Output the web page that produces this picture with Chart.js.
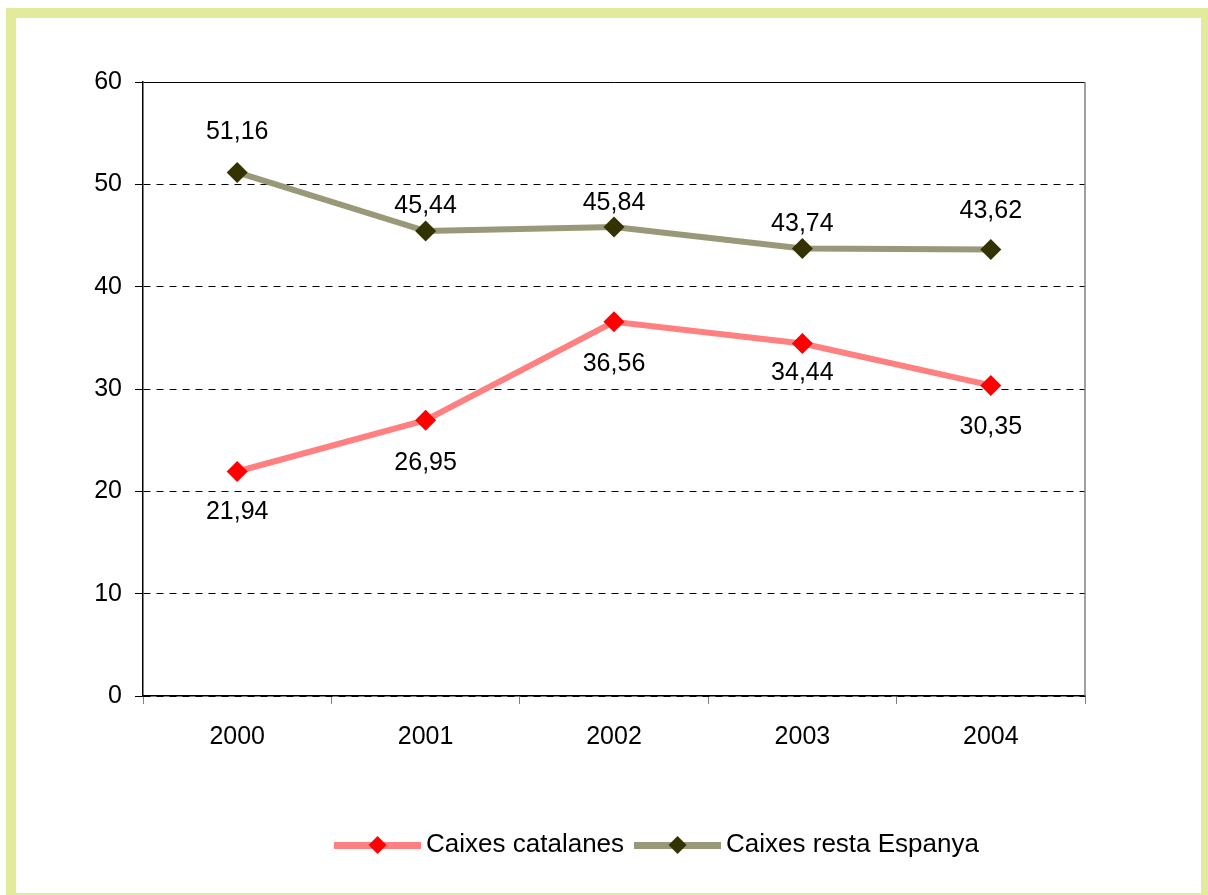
<!DOCTYPE html>
<html>
<head>
<meta charset="utf-8">
<title>Caixes</title>
<script src="https://cdn.jsdelivr.net/npm/chart.js@4.4.0/dist/chart.umd.min.js"></script>
<style>
    html, body { margin: 0; padding: 0; background: #fff; overflow: hidden; width: 1208px; height: 895px; }
    #frame { position: absolute; left: 6px; top: 8px; width: 1205px; height: 895px; box-sizing: border-box; border: 10px solid #e1eb9b; }
    #chart { position: absolute; left: 0; top: 0; }
</style>
</head>
<body>
<div id="frame"></div>
<canvas id="chart" width="1240" height="895"></canvas>
<script>
// dades
const years = ['2000', '2001', '2002', '2003', '2004'];
const catalanes = [21.94, 26.95, 36.56, 34.44, 30.35];
const restaEspanya = [51.16, 45.44, 45.84, 43.74, 43.62];
const seriesNames = ['Caixes catalanes', 'Caixes resta Espanya'];
const yMin = 0, yMax = 60, yStep = 10;

const FONT = '"Liberation Sans", Arial, Helvetica, sans-serif';
Chart.defaults.font.family = FONT;
Chart.defaults.color = '#000';

const fmt = v => v.toFixed(2).replace('.', ',');

// icona de la llegenda: línia + rombe
const makeIcon = (lineColor, markColor) => {
    const c = document.createElement('canvas');
    c.width = 87; c.height = 22;
    const g = c.getContext('2d');
    g.fillStyle = lineColor;
    g.fillRect(0, 8, 87, 7);
    g.fillStyle = markColor;
    g.beginPath();
    g.moveTo(43.5, 2); g.lineTo(52.5, 11); g.lineTo(43.5, 20); g.lineTo(34.5, 11);
    g.closePath(); g.fill();
    return c;
};
const icons = [makeIcon('#ff8080', '#ff0000'), makeIcon('#999979', '#333300')];

// etiquetes de valor
const valueLabels = {
    id: 'valueLabels',
    afterDatasetsDraw(chart, args, opts) {
        const ctx = chart.ctx;
        ctx.save();
        ctx.font = opts.size + 'px ' + FONT;
        ctx.fillStyle = '#000';
        ctx.textAlign = 'center';
        ctx.textBaseline = 'middle';
        chart.data.datasets.forEach((ds, i) => {
            const meta = chart.getDatasetMeta(i);
            meta.data.forEach((pt, j) => {
                ctx.fillText(fmt(ds.data[j]), pt.x, pt.y + opts.offsets[i][j]);
            });
        });
        ctx.restore();
    }
};

// vora dreta grisa de l'àrea de traçat
const plotFrame = {
    id: 'plotFrame',
    beforeDatasetsDraw(chart) {
        const {ctx, chartArea: a} = chart;
        ctx.save();
        ctx.strokeStyle = '#808080';
        ctx.lineWidth = 1.5;
        ctx.beginPath();
        ctx.moveTo(a.right, a.top);
        ctx.lineTo(a.right, a.bottom);
        ctx.stroke();
        ctx.restore();
    }
};

new Chart(document.getElementById('chart'), {
    type: 'line',
    data: {
        labels: years,
        datasets: [
            {
                label: seriesNames[0], data: catalanes,
                borderColor: '#ff8080', borderWidth: 6, tension: 0, fill: false,
                pointStyle: 'rectRot', pointRadius: 10.5, pointBorderWidth: 0,
                pointBackgroundColor: '#ff0000', pointBorderColor: '#ff0000'
            },
            {
                label: seriesNames[1], data: restaEspanya,
                borderColor: '#999979', borderWidth: 6, tension: 0, fill: false,
                pointStyle: 'rectRot', pointRadius: 10.5, pointBorderWidth: 0,
                pointBackgroundColor: '#333300', pointBorderColor: '#333300'
            }
        ]
    },
    options: {
        responsive: false,
        devicePixelRatio: 1,
        animation: false,
        events: [],
        layout: { padding: { left: 81, right: 0, top: 82, bottom: 27 } },
        scales: {
            x: {
                offset: true,
                grid: { offset: true, drawOnChartArea: false, tickLength: 8, color: '#808080', lineWidth: 1 },
                border: { display: true, color: '#000', width: 1.5 },
                ticks: { font: { size: 25 }, padding: 18, maxRotation: 0 },
                afterFit: s => { s.height = 118; }
            },
            y: {
                min: yMin, max: yMax,
                ticks: { stepSize: yStep, font: { size: 25 }, padding: 13 },
                grid: { tickLength: 8, lineWidth: 1, color: '#000' },
                border: {
                    display: true, color: '#000', width: 1.5,
                    dash: c => (c.tick && c.tick.value === yMax) ? [] : [7, 6]
                },
                afterFit: s => { s.width = 62; }
            },
            yR: {
                position: 'right',
                grid: { display: false },
                ticks: { display: false },
                border: { display: false },
                afterFit: s => { s.width = 155; }
            }
        },
        plugins: {
            tooltip: { enabled: false },
            legend: {
                position: 'bottom',
                labels: {
                    usePointStyle: true, pointStyleWidth: 71, padding: 18,
                    font: { size: 26 },
                    generateLabels: chart => chart.data.datasets.map((ds, i) => ({
                        text: ds.label, pointStyle: icons[i], lineWidth: 0,
                        fillStyle: ds.borderColor, strokeStyle: ds.borderColor,
                        hidden: false, datasetIndex: i
                    }))
                }
            },
            valueLabels: {
                size: 25,
                offsets: [[41, 43, 42, 30, 42], [-40, -25, -24, -24, -39]]
            }
        }
    },
    plugins: [valueLabels, plotFrame]
});
</script>
</body>
</html>
